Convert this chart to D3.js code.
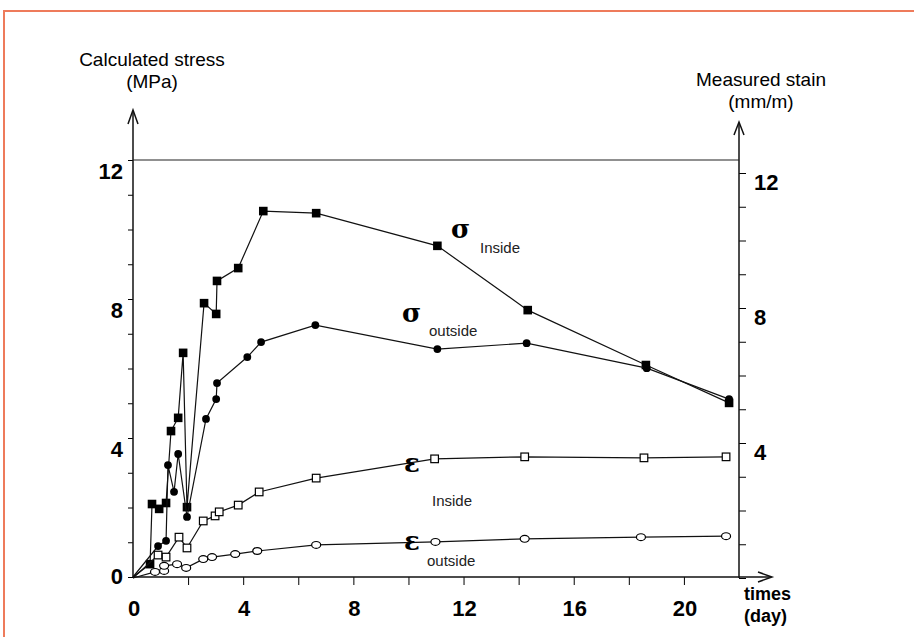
<!DOCTYPE html>
<html>
<head>
<meta charset="utf-8">
<script src="https://cdn.jsdelivr.net/npm/d3@7"></script>
<style>
    body { margin: 0; background: #fff; }
    svg { display: block; font-family: "Liberation Sans", Arial, sans-serif; }
    .line { fill: none; stroke: #111; stroke-width: 1.2; }
    .axis-line { fill: none; stroke: #111; stroke-width: 1.5; }
</style>
</head>
<body>
<script>
// values (days, MPa or mm/m); first point of every curve is the origin
var sigmaInDays  = [0, 0.62, 0.69, 0.95, 1.20, 1.38, 1.64, 1.82, 1.96, 2.58, 3.02, 3.05, 3.82, 4.73, 6.65, 11.05, 14.33, 18.62, 21.64];
var sigmaInVals  = [0, 0.37, 2.10, 1.96, 2.13, 4.20, 4.58, 6.45, 2.01, 7.88, 7.57, 8.52, 8.89, 10.53, 10.47, 9.53, 7.68, 6.10, 5.01];

var sigmaOutDays = [0, 0.91, 1.20, 1.27, 1.49, 1.64, 1.96, 2.65, 3.02, 3.05, 4.15, 4.65, 6.62, 11.05, 14.29, 18.65, 21.64];
var sigmaOutVals = [0, 0.89, 1.04, 3.22, 2.45, 3.54, 1.73, 4.55, 5.12, 5.58, 6.33, 6.76, 7.25, 6.56, 6.73, 6.01, 5.12];

var epsInDays    = [0, 0.91, 1.20, 1.67, 1.96, 2.55, 2.98, 3.13, 3.82, 4.58, 6.65, 10.95, 14.22, 18.55, 21.53];
var epsInVals    = [0, 0.68, 0.62, 1.21, 0.89, 1.69, 1.84, 1.96, 2.16, 2.55, 2.96, 3.53, 3.59, 3.56, 3.59];

var epsOutDays   = [0, 0.80, 1.13, 1.13, 1.60, 1.93, 2.55, 2.87, 3.71, 4.51, 6.65, 10.98, 14.22, 18.44, 21.53];
var epsOutVals   = [0, 0.18, 0.21, 0.36, 0.41, 0.30, 0.56, 0.62, 0.71, 0.80, 0.98, 1.07, 1.16, 1.21, 1.24];

var xTickLabels = [0, 4, 8, 12, 16, 20];
var yTickLabels = [0, 4, 8, 12];

function zip(days, vals) {
    return days.map(function (d, i) { return {day: d, val: vals[i]}; });
}

var width = 914, height = 637;

var svg = d3.select("body").append("svg")
    .attr("width", width)
    .attr("height", height);

// orange frame (only top and left edges are inside the picture)
svg.append("path")
    .attr("d", "M4," + height + " V11 H" + width)
    .attr("fill", "none")
    .attr("stroke", "#ee7b5b")
    .attr("stroke-width", 2);

// scales: left axis for stress, right axis for strain
var x = d3.scaleLinear().domain([0, 22]).range([133, 739]);
var yL = d3.scaleLinear().domain([0, 12]).range([577, 160]);
var yR = d3.scaleLinear().domain([0, 12]).range([578, 173]);

var x0 = x(0), xEnd = x(22);

// minor ticks
svg.append("g")
    .attr("transform", "translate(" + x0 + ",0)")
    .call(d3.axisLeft(yL).tickValues(d3.range(0, 13)).tickSize(5).tickFormat(""))
    .call(function (g) { g.select(".domain").remove(); });

svg.append("g")
    .attr("transform", "translate(" + xEnd + ",0)")
    .call(d3.axisRight(yR).tickValues(d3.range(0, 13)).tickSize(7).tickFormat(""))
    .call(function (g) { g.select(".domain").remove(); });

svg.append("g")
    .attr("transform", "translate(0," + yL(0) + ")")
    .call(d3.axisBottom(x).tickValues(d3.range(2, 21, 2)).tickSize(8).tickFormat(""))
    .call(function (g) { g.select(".domain").remove(); });

// axis lines with open arrow heads
svg.append("path").attr("class", "axis-line")
    .attr("d", "M" + x0 + "," + yL(0) + " V112");
svg.append("path").attr("class", "axis-line")
    .attr("stroke-width", 2)
    .attr("d", "M" + (x0 - 5) + ",124 L" + x0 + ",110 L" + (x0 + 5) + ",124");

svg.append("path").attr("class", "axis-line")
    .attr("d", "M" + xEnd + "," + yR(0) + " V124");
svg.append("path").attr("class", "axis-line")
    .attr("stroke-width", 2)
    .attr("d", "M" + (xEnd - 5) + ",135 L" + xEnd + ",122 L" + (xEnd + 5) + ",135");

svg.append("path").attr("class", "axis-line")
    .attr("d", "M" + x0 + "," + yL(0) + " H770");
svg.append("path").attr("class", "axis-line")
    .attr("stroke-width", 2)
    .attr("d", "M758,572 L772," + yL(0) + " L758,582");

// line at 12 MPa
svg.append("line")
    .attr("x1", x0).attr("x2", xEnd)
    .attr("y1", yL(12)).attr("y2", yL(12))
    .attr("stroke", "#222").attr("stroke-width", 1.2);

// tick labels
svg.selectAll(".ylab")
    .data(yTickLabels)
    .enter().append("text")
    .attr("x", 123)
    .attr("y", function (d) { return yL(d); })
    .attr("dy", function (d) { return d === 0 ? "0.3em" : "0.88em"; })
    .attr("text-anchor", "end")
    .style("font-size", "22px").style("font-weight", "bold")
    .text(function (d) { return d; });

svg.selectAll(".yrlab")
    .data(yTickLabels.filter(function (d) { return d > 0; }))
    .enter().append("text")
    .attr("x", 754)
    .attr("y", function (d) { return yR(d); })
    .attr("dy", "0.78em")
    .style("font-size", "22px").style("font-weight", "bold")
    .text(function (d) { return d; });

svg.selectAll(".xlab")
    .data(xTickLabels)
    .enter().append("text")
    .attr("x", function (d) { return x(d) + 1; })
    .attr("y", 616)
    .attr("text-anchor", "middle")
    .style("font-size", "22px").style("font-weight", "bold")
    .text(function (d) { return d; });

// axis titles
var titles = [
    {t: "Calculated stress", x: 152, y: 66},
    {t: "(MPa)", x: 152, y: 88},
    {t: "Measured stain", x: 761, y: 86},
    {t: "(mm/m)", x: 761, y: 108}
];
svg.selectAll(".title")
    .data(titles)
    .enter().append("text")
    .attr("x", function (d) { return d.x; })
    .attr("y", function (d) { return d.y; })
    .attr("text-anchor", "middle")
    .style("font-size", "19px")
    .text(function (d) { return d.t; });

svg.append("text").attr("x", 744).attr("y", 600)
    .style("font-size", "18px").style("font-weight", "bold").text("times");
svg.append("text").attr("x", 744).attr("y", 622)
    .style("font-size", "18px").style("font-weight", "bold").text("(day)");

// curves
var series = [
    {data: zip(sigmaInDays, sigmaInVals), y: yL, mark: "fsquare"},
    {data: zip(sigmaOutDays, sigmaOutVals), y: yL, mark: "fcircle"},
    {data: zip(epsInDays, epsInVals), y: yR, mark: "osquare"},
    {data: zip(epsOutDays, epsOutVals), y: yR, mark: "ocircle"}
];

series.forEach(function (s) {
    var line = d3.line()
        .x(function (d) { return x(d.day); })
        .y(function (d) { return s.y(d.val); });

    svg.append("path")
        .datum(s.data)
        .attr("class", "line")
        .attr("d", line);

    var pts = svg.append("g").selectAll("g")
        .data(s.data.slice(1))
        .enter().append("g")
        .attr("transform", function (d) {
            return "translate(" + x(d.day) + "," + s.y(d.val) + ")";
        });

    if (s.mark === "fsquare") {
        pts.append("rect").attr("x", -4.3).attr("y", -4.3).attr("width", 8.6).attr("height", 8.6)
            .attr("fill", "#000");
    } else if (s.mark === "fcircle") {
        pts.append("circle").attr("r", 3.9).attr("fill", "#000");
    } else if (s.mark === "osquare") {
        pts.append("rect").attr("x", -3.8).attr("y", -3.8).attr("width", 7.6).attr("height", 7.6)
            .attr("fill", "#fff").attr("stroke", "#000").attr("stroke-width", 1.2);
    } else {
        pts.append("ellipse").attr("rx", 4.5).attr("ry", 3.4)
            .attr("fill", "#fff").attr("stroke", "#000").attr("stroke-width", 1.2);
    }
});

// curve labels
var greek = [
    {g: "σ", gx: 451, gy: 238, t: "Inside", tx: 480, ty: 253},
    {g: "σ", gx: 402, gy: 322, t: "outside", tx: 429, ty: 336},
    {g: "ε", gx: 404, gy: 472, t: "Inside", tx: 432, ty: 506},
    {g: "ε", gx: 404, gy: 550, t: "outside", tx: 427, ty: 566}
];

svg.selectAll(".glab")
    .data(greek)
    .enter().append("text")
    .attr("x", function (d) { return d.gx; })
    .attr("y", function (d) { return d.gy; })
    .style("font-family", "'DejaVu Serif', serif")
    .style("font-weight", "bold")
    .style("font-size", "26px")
    .text(function (d) { return d.g; });

svg.selectAll(".tlab")
    .data(greek)
    .enter().append("text")
    .attr("x", function (d) { return d.tx; })
    .attr("y", function (d) { return d.ty; })
    .style("font-size", "15px")
    .style("fill", "#222")
    .text(function (d) { return d.t; });
</script>
</body>
</html>
